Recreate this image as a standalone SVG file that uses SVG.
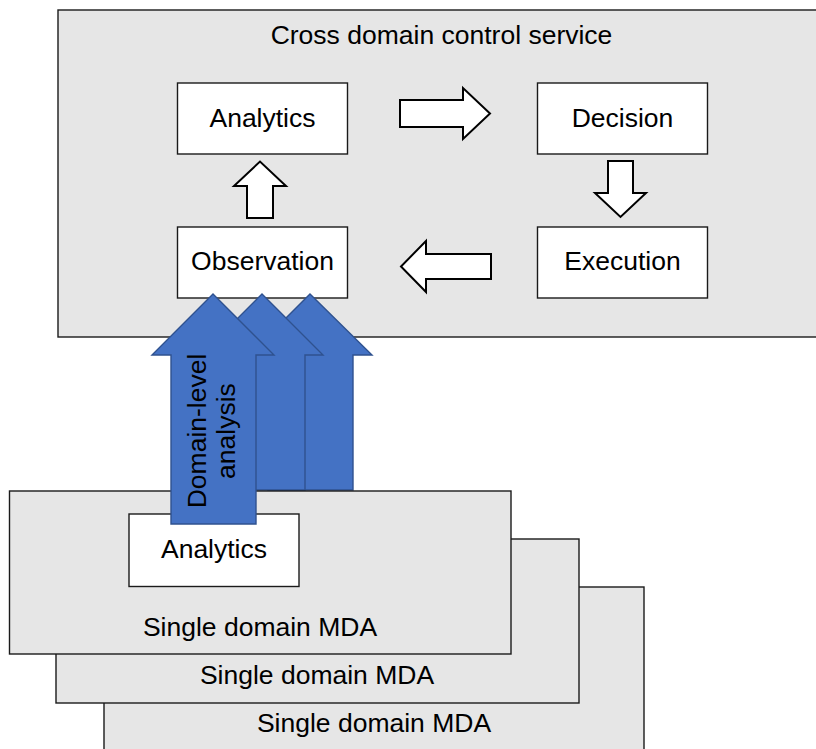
<svg xmlns="http://www.w3.org/2000/svg" width="816" height="749" viewBox="0 0 816 749">
<style>
  .panel { fill: #e6e6e6; stroke: #1a1a1a; stroke-width: 1.4; }
  .box { fill: #ffffff; stroke: #1a1a1a; stroke-width: 1.4; }
  .txt { font-family: "Liberation Sans", Arial, sans-serif; font-size: 26.5px; fill: #000000; text-anchor: middle; }
  .warrow { fill: #ffffff; stroke: #000000; stroke-width: 2; stroke-linejoin: miter; }
  .barrow { fill: #4472c4; stroke: #2f528f; stroke-width: 1.4; }
</style>
<rect width="816" height="749" fill="#ffffff"/>

<g id="cross-domain">
  <rect class="panel" x="58" y="10" width="770" height="327"/>
  <text class="txt" x="441.5" y="43.5">Cross domain control service</text>
</g>

<g id="analytics-top">
  <rect class="box" x="177.5" y="83" width="170" height="71"/>
  <text class="txt" x="262.5" y="127">Analytics</text>
</g>
<g id="decision">
  <rect class="box" x="537.5" y="83" width="170" height="71"/>
  <text class="txt" x="622.5" y="127">Decision</text>
</g>
<g id="observation">
  <rect class="box" x="177.5" y="227" width="170" height="71"/>
  <text class="txt" x="262.5" y="270">Observation</text>
</g>
<g id="execution">
  <rect class="box" x="537.5" y="227" width="170" height="71"/>
  <text class="txt" x="622.5" y="270">Execution</text>
</g>

<g id="mda-3">
  <rect class="panel" x="104" y="587" width="540" height="170"/>
  <text class="txt" x="374" y="731.5">Single domain MDA</text>
</g>
<g id="mda-2">
  <rect class="panel" x="56" y="539" width="523" height="164"/>
  <text class="txt" x="317" y="684">Single domain MDA</text>
</g>

<g id="connectors">
  <polygon class="warrow" points="400,100 463,100 463,88 490,113.5 463,139 463,127 400,127"/>
  <polygon class="warrow" points="608,161 633,161 633,193 646,193 620.5,217 595,193 608,193"/>
  <polygon class="warrow" points="491,254 426,254 426,241 401,266.5 426,292 426,279 491,279"/>
  <polygon class="warrow" points="247,218 247,186 234,186 260,161.5 286,186 273,186 273,218"/>
  <polygon class="barrow" points="310,294 372,355 353,355 353,490 268,490 268,355 249,355"/>
  <polygon class="barrow" points="262,294 323,355 305,355 305,490 220,490 220,355 201,355"/>
</g>

<g id="mda-1">
  <rect class="panel" x="9.5" y="491" width="501.5" height="163"/>
  <text class="txt" x="260" y="635.5">Single domain MDA</text>
</g>
<g id="analytics-mda">
  <rect class="box" x="129" y="514" width="170" height="72.5"/>
  <text class="txt" x="214" y="557.5">Analytics</text>
</g>

<g id="domain-level-analysis">
  <polygon class="barrow" points="213,294 274,355 256,355 256,524 171,524 171,355 152,355"/>
  <text class="txt" transform="translate(212,431) rotate(-90)"><tspan x="0" y="-6">Domain-level</tspan><tspan x="0" y="23">analysis</tspan></text>
</g>
</svg>
